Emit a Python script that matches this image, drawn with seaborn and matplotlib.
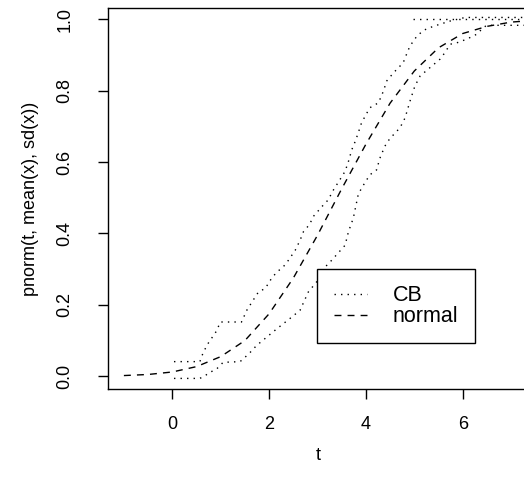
import matplotlib

matplotlib.use("Agg")

import matplotlib.pyplot as plt
import numpy as np
import pandas as pd
import seaborn as sns
from matplotlib.lines import Line2D

# fitted normal cdf (dashed)
NORMAL_T = [-1.0, -0.5, 0.0, 0.5, 1.0, 1.5, 2.0, 2.5, 3.0, 3.5, 4.0, 4.5,
            5.0, 5.5, 6.0, 6.5, 7.0, 7.5]
NORMAL_P = [0.002, 0.005, 0.012, 0.027, 0.055, 0.100, 0.175, 0.275, 0.395,
            0.525, 0.650, 0.765, 0.855, 0.920, 0.960, 0.980, 0.992, 0.997]

# upper confidence band (dotted)
UPPER_T = [0.035, 0.57, 0.64, 0.74, 0.92, 0.99, 1.43, 1.54, 1.67, 1.78, 1.92,
           2.05, 2.16, 2.29, 2.40, 2.54, 2.64, 2.71, 2.84, 2.91, 3.09, 3.22,
           3.33, 3.46, 3.57, 3.64, 3.71, 3.78, 3.84, 3.91, 4.08, 4.26, 4.36,
           4.43, 4.57, 4.77, 4.84, 4.91, 5.05, 5.19, 5.39, 5.53, 5.74, 6.05,
           7.6]
UPPER_P = [0.041, 0.041, 0.067, 0.092, 0.128, 0.152, 0.152, 0.185, 0.213,
           0.236, 0.246, 0.274, 0.292, 0.306, 0.325, 0.353, 0.381, 0.405,
           0.426, 0.447, 0.475, 0.494, 0.522, 0.550, 0.574, 0.602, 0.635,
           0.658, 0.681, 0.710, 0.752, 0.766, 0.798, 0.827, 0.850, 0.878,
           0.902, 0.925, 0.952, 0.969, 0.980, 0.986, 0.995, 1.005, 1.005]

# lower confidence band (dotted)
LOWER_T = [0.035, 0.57, 0.68, 0.78, 0.92, 1.05, 1.40, 1.47, 1.61, 1.74, 2.16,
           2.47, 2.64, 2.81, 2.98, 3.09, 3.26, 3.57, 3.64, 3.74, 3.84, 3.91,
           4.08, 4.22, 4.29, 4.39, 4.50, 4.64, 4.74, 4.81, 4.91, 5.01, 5.12,
           5.32, 5.53, 5.63, 5.74, 5.88, 6.08, 6.29, 6.43, 6.50, 7.6]
LOWER_P = [-0.006, -0.006, 0.002, 0.011, 0.021, 0.039, 0.041, 0.049, 0.067,
           0.086, 0.133, 0.166, 0.185, 0.236, 0.264, 0.297, 0.320, 0.367,
           0.405, 0.443, 0.508, 0.527, 0.564, 0.578, 0.611, 0.644, 0.667,
           0.686, 0.705, 0.724, 0.770, 0.812, 0.841, 0.864, 0.888, 0.906,
           0.930, 0.934, 0.944, 0.958, 0.977, 0.983, 0.983]

# band clipped at one
CAP_T = [4.97, 7.6]
CAP_P = [1.0, 1.0]

X_TICKS = [0, 2, 4, 6]
Y_TICKS = [0.0, 0.2, 0.4, 0.6, 0.8, 1.0]
LEGEND_LABELS = ["CB", "normal"]

DOTTED = (0, (1.0, 3.7))
DASHED = (0, (5.0, 4.4))


def setup_style() -> None:
    sns.set_theme(style="white")
    plt.rcParams.update(
        {
            "font.family": ["Liberation Sans", "DejaVu Sans"],
            "lines.scale_dashes": False,
            "axes.edgecolor": "black",
            "axes.linewidth": 1.0,
            "xtick.color": "black",
            "ytick.color": "black",
            "text.color": "black",
            "axes.labelcolor": "black",
        }
    )


def main() -> None:
    setup_style()
    figure = plt.figure(figsize=(5.24, 4.94), dpi=100)
    axis = figure.add_axes([0.2067, 0.2126, 0.801, 0.7707])

    lines = [
        (UPPER_T, UPPER_P, DOTTED),
        (LOWER_T, LOWER_P, DOTTED),
        (CAP_T, CAP_P, DOTTED),
        (NORMAL_T, NORMAL_P, DASHED),
    ]
    for t_values, p_values, style in lines:
        frame = pd.DataFrame({"t": t_values, "p": p_values})
        sns.lineplot(
            data=frame,
            x="t",
            y="p",
            estimator=None,
            sort=False,
            color="black",
            linewidth=1.0,
            linestyle=style,
            ax=axis,
        )

    axis.set_xlim(-1.322, 7.35)
    axis.set_ylim(-0.0356, 1.0308)
    axis.set_xticks(X_TICKS)
    axis.set_xticklabels([str(v) for v in X_TICKS])
    axis.set_yticks(Y_TICKS)
    axis.set_yticklabels([f"{v:.1f}" for v in Y_TICKS])
    for spine in axis.spines.values():
        spine.set_visible(True)
        spine.set_color("black")
        spine.set_linewidth(1.0)
    axis.tick_params(axis="both", direction="out", length=7.2, width=1.0,
                     labelsize=13, bottom=True, left=True)
    axis.tick_params(axis="x", pad=12.6)
    axis.tick_params(axis="y", pad=18)
    for label in axis.get_yticklabels():
        label.set_rotation(90)
        label.set_va("center")
    axis.set_xlabel("t", fontsize=13, labelpad=9.5)
    axis.set_ylabel("pnorm(t, mean(x), sd(x))", fontsize=13, labelpad=12.6)

    handles = [
        Line2D([], [], color="black", linewidth=1.0, linestyle=DOTTED),
        Line2D([], [], color="black", linewidth=1.0, linestyle=DASHED),
    ]
    legend = axis.legend(
        handles,
        LEGEND_LABELS,
        loc="upper left",
        bbox_to_anchor=(3.0, 0.3),
        bbox_transform=axis.transData,
        borderaxespad=0,
        fontsize=15.5,
        borderpad=0.75,
        labelspacing=0.0,
        handlelength=1.55,
        handletextpad=1.2,
        fancybox=False,
        framealpha=1,
        facecolor="white",
        edgecolor="black",
    )
    legend.get_frame().set_linewidth(1.0)

    figure.savefig("out.png", dpi=100, facecolor="white")
    plt.close(figure)


if __name__ == "__main__":
    main()
